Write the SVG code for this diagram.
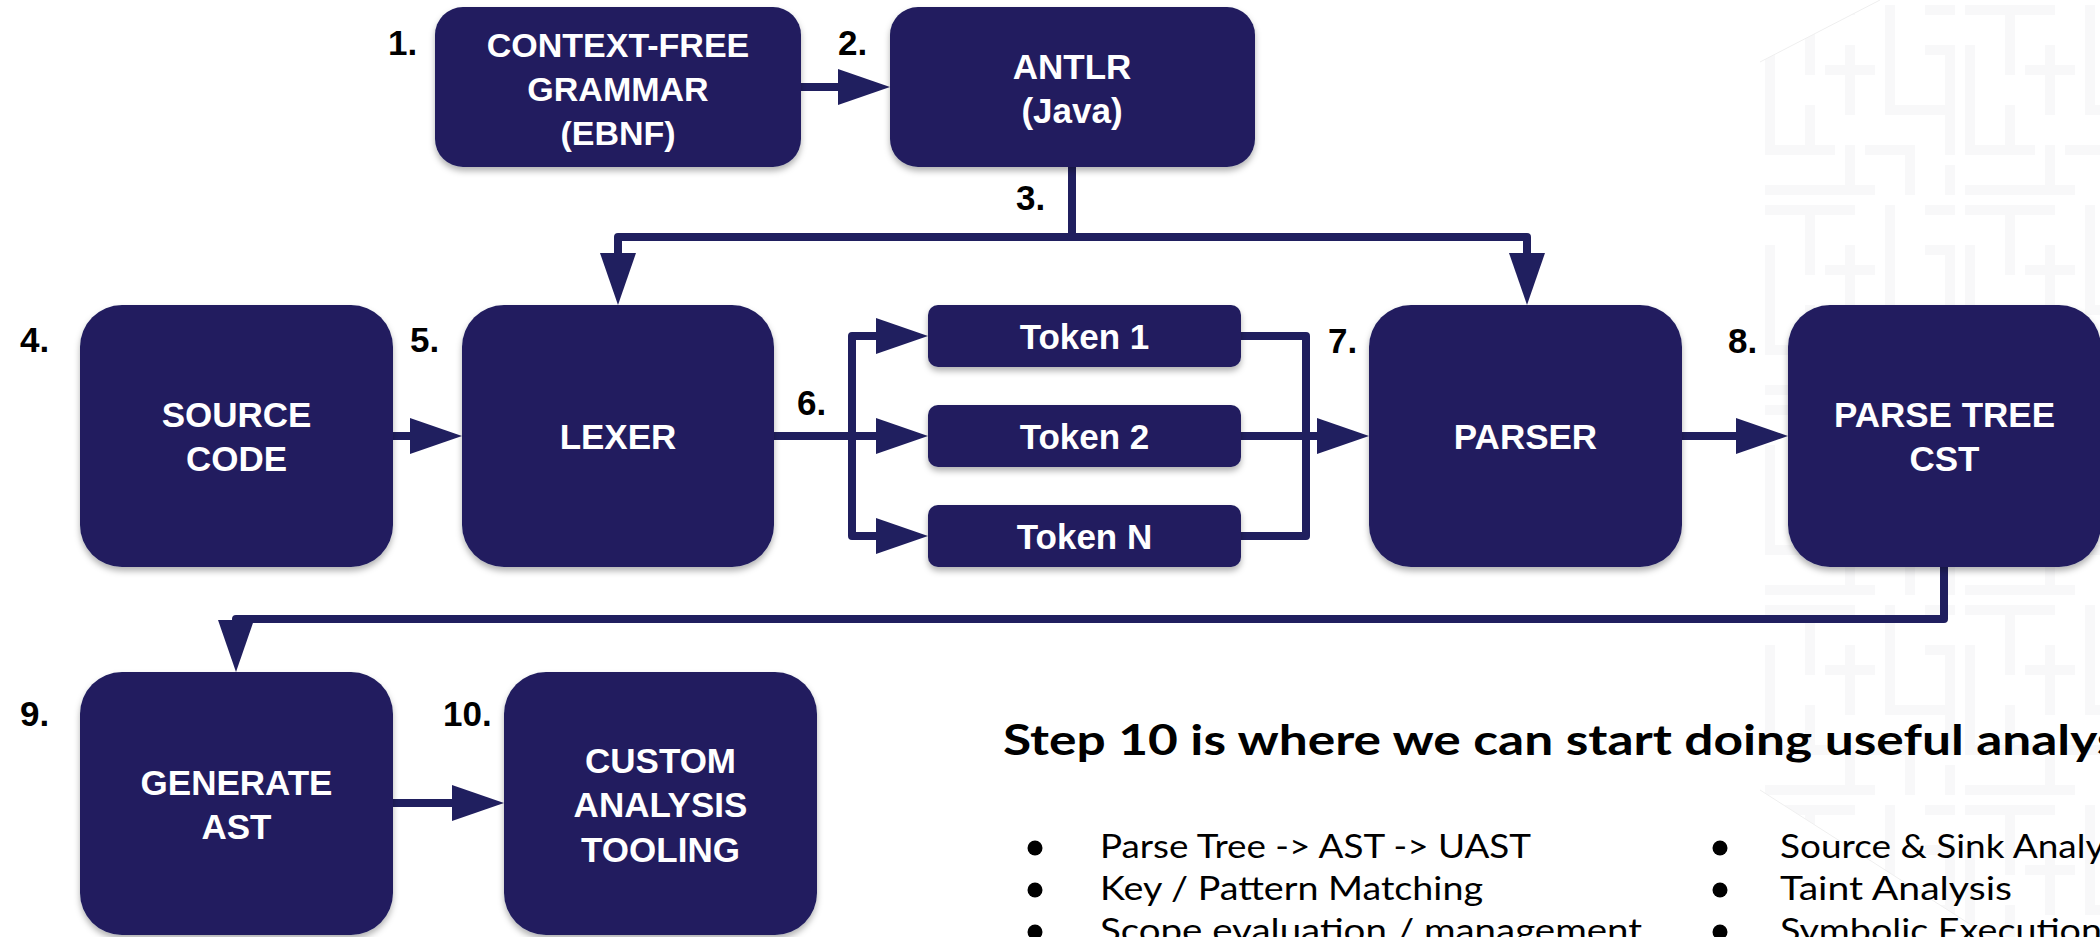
<svg xmlns="http://www.w3.org/2000/svg" width="2100" height="937" viewBox="0 0 2100 937">
<style>
.box{fill:#201f5f;filter:url(#sh);}
.lbl{font-family:"Liberation Sans",Arial,sans-serif;font-weight:bold;font-size:35px;fill:#ffffff;text-anchor:middle;}
.num{font-family:"Liberation Sans",Arial,sans-serif;font-weight:bold;font-size:35px;fill:#000000;}
.con{fill:none;stroke:#201f5f;stroke-width:8;stroke-linejoin:round;}
.head{font-family:Lato,"Open Sans",sans-serif;font-weight:bold;font-size:42px;fill:#000000;}
.bul{font-family:Lato,"Open Sans",sans-serif;font-size:33px;fill:#000000;}
.maze{fill:none;stroke:#f8f8f9;stroke-width:10;stroke-linecap:square;}
</style>
<defs>
<filter id="sh" x="-10%" y="-10%" width="120%" height="130%">
<feDropShadow dx="0" dy="4" stdDeviation="3" flood-color="#000000" flood-opacity="0.3"/>
</filter>
<marker id="ah" markerUnits="userSpaceOnUse" markerWidth="52" markerHeight="36" refX="0" refY="18" orient="auto-start-reverse">
<path d="M0,0 L52,18 L0,36 z" fill="#201f5f"/>
</marker>
<pattern id="mz" patternUnits="userSpaceOnUse" width="200" height="200" x="1760" y="0">
<path class="maze" d="M10,10 H90 M50,10 V70 M130,10 V110 H190 M10,50 V150 H70 M90,50 V110 M10,190 H110 M150,150 V190 M170,50 H190 V150 M50,110 V150 M110,150 H150 M70,70 H110 M170,10 H190 M90,150 V190 M190,170 V190"/>
</pattern>
<clipPath id="hex"><polygon points="1760,62 1880,0 2100,0 2100,937 1990,937 1760,790"/></clipPath>
</defs>
<rect width="2100" height="937" fill="#ffffff"/>
<g id="background">
<rect x="1760" y="0" width="340" height="937" fill="url(#mz)" clip-path="url(#hex)"/>
<path d="M1760,62 L1880,0 M1760,790 L1990,937" stroke="#efefef" stroke-width="1" fill="none"/>
</g>
<g id="connectors">
<path class="con" d="M801,87 H838" marker-end="url(#ah)"/>
<path class="con" d="M1072,167 V237"/>
<path class="con" d="M618,253 V237 H1527 V253" marker-start="url(#ah)" marker-end="url(#ah)"/>
<path class="con" d="M393,436 H410" marker-end="url(#ah)"/>
<path class="con" d="M774,436 H876" marker-end="url(#ah)"/>
<path class="con" d="M876,336 H852 V536 H876" marker-start="url(#ah)" marker-end="url(#ah)"/>
<path class="con" d="M1241,336 H1306 V536 H1241"/>
<path class="con" d="M1241,436 H1317" marker-end="url(#ah)"/>
<path class="con" d="M1682,436 H1736" marker-end="url(#ah)"/>
<path class="con" d="M1944,567 V619 H236 V620" marker-end="url(#ah)"/>
<path class="con" d="M393,803 H452" marker-end="url(#ah)"/>
</g>
<g id="n1">
<rect class="box" x="435" y="7" width="366" height="160" rx="28"/>
<text class="lbl" x="618" y="57" style="font-size:34px">CONTEXT-FREE</text>
<text class="lbl" x="618" y="101" style="font-size:34px">GRAMMAR</text>
<text class="lbl" x="618" y="145" style="font-size:34px">(EBNF)</text>
<text class="num" x="388" y="55">1.</text>
</g>
<g id="n2">
<rect class="box" x="890" y="7" width="365" height="160" rx="28"/>
<text class="lbl" x="1072" y="79">ANTLR</text>
<text class="lbl" x="1072" y="123">(Java)</text>
<text class="num" x="838" y="55">2.</text>
</g>
<g id="n3">
<text class="num" x="1016" y="210">3.</text>
</g>
<g id="n4">
<rect class="box" x="80" y="305" width="313" height="262" rx="42"/>
<text class="lbl" x="236.5" y="427">SOURCE</text>
<text class="lbl" x="236.5" y="471">CODE</text>
<text class="num" x="20" y="352">4.</text>
</g>
<g id="n5">
<rect class="box" x="462" y="305" width="312" height="262" rx="42"/>
<text class="lbl" x="618" y="449">LEXER</text>
<text class="num" x="410" y="352">5.</text>
</g>
<g id="n6">
<rect class="box" x="928" y="305" width="313" height="62" rx="10"/>
<text class="lbl" x="1084.5" y="349">Token 1</text>
<rect class="box" x="928" y="405" width="313" height="62" rx="10"/>
<text class="lbl" x="1084.5" y="449">Token 2</text>
<rect class="box" x="928" y="505" width="313" height="62" rx="10"/>
<text class="lbl" x="1084.5" y="549">Token N</text>
<text class="num" x="797" y="415">6.</text>
</g>
<g id="n7">
<rect class="box" x="1369" y="305" width="313" height="262" rx="42"/>
<text class="lbl" x="1525.5" y="449">PARSER</text>
<text class="num" x="1328" y="353">7.</text>
</g>
<g id="n8">
<rect class="box" x="1788" y="305" width="313" height="262" rx="42"/>
<text class="lbl" x="1944.5" y="427">PARSE TREE</text>
<text class="lbl" x="1944.5" y="471">CST</text>
<text class="num" x="1728" y="353">8.</text>
</g>
<g id="n9">
<rect class="box" x="80" y="672" width="313" height="263" rx="42"/>
<text class="lbl" x="236.5" y="795">GENERATE</text>
<text class="lbl" x="236.5" y="839">AST</text>
<text class="num" x="20" y="726">9.</text>
</g>
<g id="n10">
<rect class="box" x="504" y="672" width="313" height="263" rx="42"/>
<text class="lbl" x="660.5" y="773">CUSTOM</text>
<text class="lbl" x="660.5" y="817">ANALYSIS</text>
<text class="lbl" x="660.5" y="862">TOOLING</text>
<text class="num" x="443" y="726">10.</text>
</g>
<g id="notes">
<text class="head" x="1003" y="755" textLength="1152" lengthAdjust="spacingAndGlyphs">Step 10 is where we can start doing useful analysis</text>
<circle cx="1035" cy="848" r="7.5" fill="#000"/>
<circle cx="1035" cy="890" r="7.5" fill="#000"/>
<circle cx="1035" cy="932" r="7.5" fill="#000"/>
<circle cx="1720" cy="848" r="7.5" fill="#000"/>
<circle cx="1720" cy="890" r="7.5" fill="#000"/>
<circle cx="1720" cy="932" r="7.5" fill="#000"/>
<text class="bul" x="1100" y="858" textLength="431" lengthAdjust="spacingAndGlyphs">Parse Tree -&gt; AST -&gt; UAST</text>
<text class="bul" x="1100" y="900" textLength="383" lengthAdjust="spacingAndGlyphs">Key / Pattern Matching</text>
<text class="bul" x="1100" y="942" textLength="542" lengthAdjust="spacingAndGlyphs">Scope evaluation / management</text>
<text class="bul" x="1780" y="858" textLength="365" lengthAdjust="spacingAndGlyphs">Source &amp; Sink Analysis</text>
<text class="bul" x="1780" y="900" textLength="232" lengthAdjust="spacingAndGlyphs">Taint Analysis</text>
<text class="bul" x="1780" y="942" textLength="322" lengthAdjust="spacingAndGlyphs">Symbolic Execution</text>
</g>
</svg>
